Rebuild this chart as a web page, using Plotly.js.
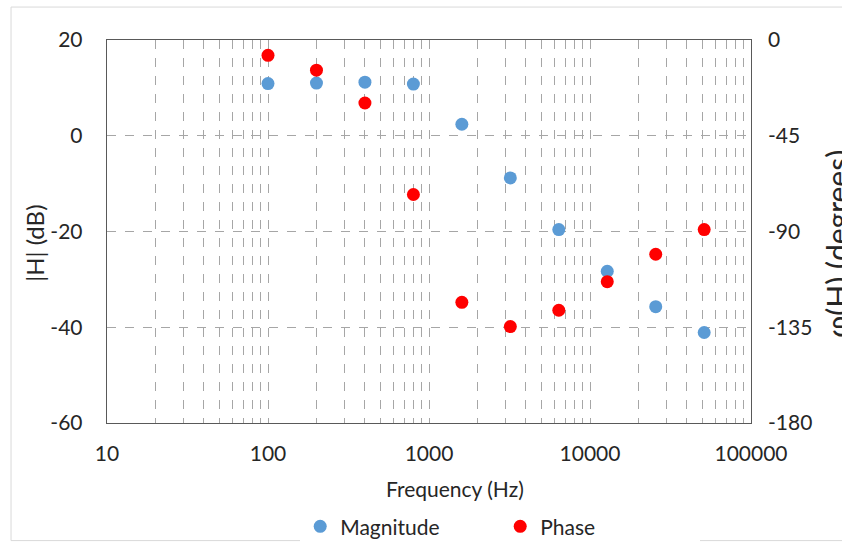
<!DOCTYPE html>
<html>
<head>
<meta charset="utf-8">
<script src="https://cdn.plot.ly/plotly-3.0.1.min.js"></script>
<style>html,body{margin:0;padding:0;background:#fff;}#chart{width:842px;height:543px;}</style>
</head>
<body>
<div id="chart"></div>
<script>
const frequency = [100, 200, 400, 800, 1600, 3200, 6400, 12800, 25600, 51200];
const magnitudeDb = [10.9, 11.0, 11.2, 10.8, 2.4, -8.8, -19.6, -28.3, -35.7, -41.1];
const phaseDeg = [-7.2, -14.2, -29.6, -72.6, -123.3, -134.7, -127.0, -113.6, -100.7, -89.1];
const xTickVals = [10, 100, 1000, 10000, 100000];
const xTickText = ['10', '100', '1000', '10000', '100000'];
const magTickVals = [-60, -40, -20, 0, 20];
const magTickText = ['-60', '-40', '-20', '0', '20'];
const phaseTickVals = [-180, -135, -90, -45, 0];
const phaseTickText = ['-180', '-135', '-90', '-45', '0'];

const FONT = 'Lato, "Open Sans", sans-serif';
const gridColor = '#a6a6a6';

const traces = [
  {x: frequency, y: magnitudeDb, name: 'Magnitude', type: 'scatter', mode: 'markers',
   marker: {color: '#5b9bd5', size: 13}, yaxis: 'y'},
  {x: frequency, y: phaseDeg, name: 'Phase', type: 'scatter', mode: 'markers',
   marker: {color: '#ff0000', size: 13}, yaxis: 'y2'}
];

const layout = {
  width: 842, height: 543,
  margin: {l: 107, r: 91, t: 40, b: 120, autoexpand: false},
  paper_bgcolor: '#fff', plot_bgcolor: '#fff',
  font: {family: FONT, size: 21, color: '#262626'},
  showlegend: true,
  legend: {orientation: 'h', x: 0.3, xanchor: 'left', yref: 'container', y: 0.03, yanchor: 'middle',
           font: {size: 21}, entrywidth: 155, entrywidthmode: 'pixels', itemwidth: 30},
  xaxis: {type: 'log', range: [1, 5], tickvals: xTickVals, ticktext: xTickText,
          showgrid: true, gridcolor: gridColor, griddash: 'dash', gridwidth: 1,
          minor: {dtick: 'D1', showgrid: true, gridcolor: gridColor, griddash: 'dash', gridwidth: 1},
          showline: true, linecolor: '#595959', linewidth: 1.3, mirror: true,
          ticks: '', ticklabelstandoff: 11, zeroline: false, automargin: false},
  yaxis: {range: [-60, 20], tickvals: magTickVals, ticktext: magTickText, showgrid: true, gridcolor: gridColor,
          griddash: 'dash', gridwidth: 1, zeroline: false,
          showline: true, linecolor: '#595959', linewidth: 1.3, mirror: true,
          ticks: '', ticklabelstandoff: 19, automargin: false},
  yaxis2: {range: [-180, 0], tickvals: phaseTickVals, ticktext: phaseTickText, overlaying: 'y', side: 'right',
           showgrid: false, zeroline: false, showline: false, ticks: '', ticklabelstandoff: 16, automargin: false},
  annotations: [
    {text: 'Frequency (Hz)', xref: 'paper', yref: 'paper', x: 0.541, y: -0.172,
     xanchor: 'center', yanchor: 'middle', showarrow: false, font: {size: 21}},
    {text: '|H| (dB)', xref: 'paper', yref: 'paper', x: -0.112, y: 0.47,
     xanchor: 'center', yanchor: 'middle', showarrow: false, textangle: -90, font: {size: 24}},
    {text: 'φ(H) (degrees)', xref: 'paper', yref: 'paper', x: 1.133, y: 0.467,
     xanchor: 'center', yanchor: 'middle', showarrow: false, textangle: -90, font: {size: 30}}
  ],
  shapes: [
    {type: 'rect', xref: 'paper', yref: 'paper', x0: -0.149, x1: 1.16, y0: -0.307, y1: 1.086,
     line: {color: '#d9d9d9', width: 1}, layer: 'below'}
  ]
};

Plotly.newPlot('chart', traces, layout, {displayModeBar: false, staticPlot: true});
</script>
</body>
</html>
